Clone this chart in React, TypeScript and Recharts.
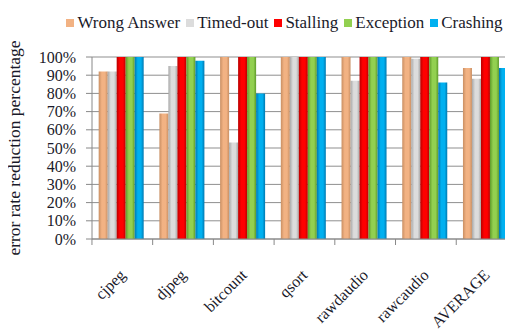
import { BarChart, Bar, XAxis, YAxis, CartesianGrid } from "recharts";

const benchmarks = ["cjpeg", "djpeg", "bitcount", "qsort", "rawdaudio", "rawcaudio", "AVERAGE"];
const wrongAnswer = [92, 69, 100, 100, 100, 100, 94];
const timedOut = [92, 95, 53, 100, 87, 99, 88];
const stalling = [100, 100, 100, 100, 100, 100, 100];
const exception = [100, 100, 100, 100, 100, 100, 100];
const crashing = [100, 98, 80, 100, 100, 86, 94];
const yTicks = [0, 10, 20, 30, 40, 50, 60, 70, 80, 90, 100];

const series = [
  { key: "wrong", name: "Wrong Answer", color: "#F2B283", dark: "#C98F63" },
  { key: "timed", name: "Timed-out", color: "#DCDCDC", dark: "#A8A8A8" },
  { key: "stall", name: "Stalling", color: "#FF0000", dark: "#B80000" },
  { key: "exc", name: "Exception", color: "#92D050", dark: "#5E9A2A" },
  { key: "crash", name: "Crashing", color: "#00B0F0", dark: "#0078B0" },
];

const data = benchmarks.map((b, i) => ({
  name: b,
  wrong: wrongAnswer[i],
  timed: timedOut[i],
  stall: stalling[i],
  exc: exception[i],
  crash: crashing[i],
}));

const font = "'Liberation Serif', 'DejaVu Serif', serif";
const ink = "#1a1a2a";

// legend sits above the plot, kept out of recharts layout so the plot box stays fixed
function LegendRow() {
  return (
    <div
      style={{
        position: "absolute",
        left: 66,
        top: 13,
        display: "flex",
        alignItems: "center",
        fontFamily: font,
        fontSize: 17,
        color: ink,
        whiteSpace: "nowrap",
      }}
    >
      {series.map((s) => (
        <div key={s.key} style={{ display: "flex", alignItems: "center", marginRight: 5.5 }}>
          <div style={{ width: 8, height: 8, background: s.color, marginRight: 3.5 }} />
          <span>{s.name}</span>
        </div>
      ))}
    </div>
  );
}

function CategoryTick(props: any) {
  const { x, y, payload } = props;
  const half = 30.4;
  const tx = x + 4;
  const ty = y + 29;
  return (
    <g>
      <line x1={x - half} y1={y - 8} x2={x - half} y2={y - 2} stroke="#888" />
      <text
        x={tx}
        y={ty}
        transform={`rotate(-45 ${tx} ${ty})`}
        textAnchor="end"
        fontFamily={font}
        fontSize={16}
        fill={ink}
      >
        {payload.value}
      </text>
    </g>
  );
}

export default function App() {
  return (
    <div style={{ position: "relative", margin: "-8px 0 0 -8px", width: 513, height: 333, overflow: "hidden", background: "#fff" }}>
      <LegendRow />
      <BarChart
        width={530}
        height={333}
        data={data}
        margin={{ top: 57, right: 13, bottom: 0, left: 0 }}
        barCategoryGap="11%"
        barGap={0}
      >
        <defs>
          {series.map((s) => (
            <linearGradient key={s.key} id={`g-${s.key}`} x1="0" y1="0" x2="1" y2="0">
              <stop offset="0%" stopColor={s.dark} />
              <stop offset="35%" stopColor={s.color} />
              <stop offset="70%" stopColor={s.color} />
              <stop offset="100%" stopColor={s.dark} />
            </linearGradient>
          ))}
        </defs>
        <CartesianGrid vertical={false} stroke="#8f8f8f" />
        <XAxis
          dataKey="name"
          height={94}
          axisLine={{ stroke: "#888" }}
          tickLine={false}
          interval={0}
          tick={<CategoryTick />}
        />
        <YAxis
          domain={[0, 100]}
          ticks={yTicks}
          width={92}
          interval={0}
          tickFormatter={(v) => `${v}%`}
          axisLine={{ stroke: "#888" }}
          tickLine={{ stroke: "#888" }}
          tick={{ fontFamily: font, fontSize: 16, fill: ink, dx: -8 }}
          label={{
            value: "error rate reduction percentage",
            angle: -90,
            position: "insideLeft",
            offset: 0,
            dx: 14,
            style: { fontFamily: font, fontSize: 17.5, fill: ink, textAnchor: "middle" },
          }}
        />
        {series.map((s) => (
          <Bar key={s.key} dataKey={s.key} name={s.name} fill={`url(#g-${s.key})`} isAnimationActive={false} />
        ))}
      </BarChart>
    </div>
  );
}
